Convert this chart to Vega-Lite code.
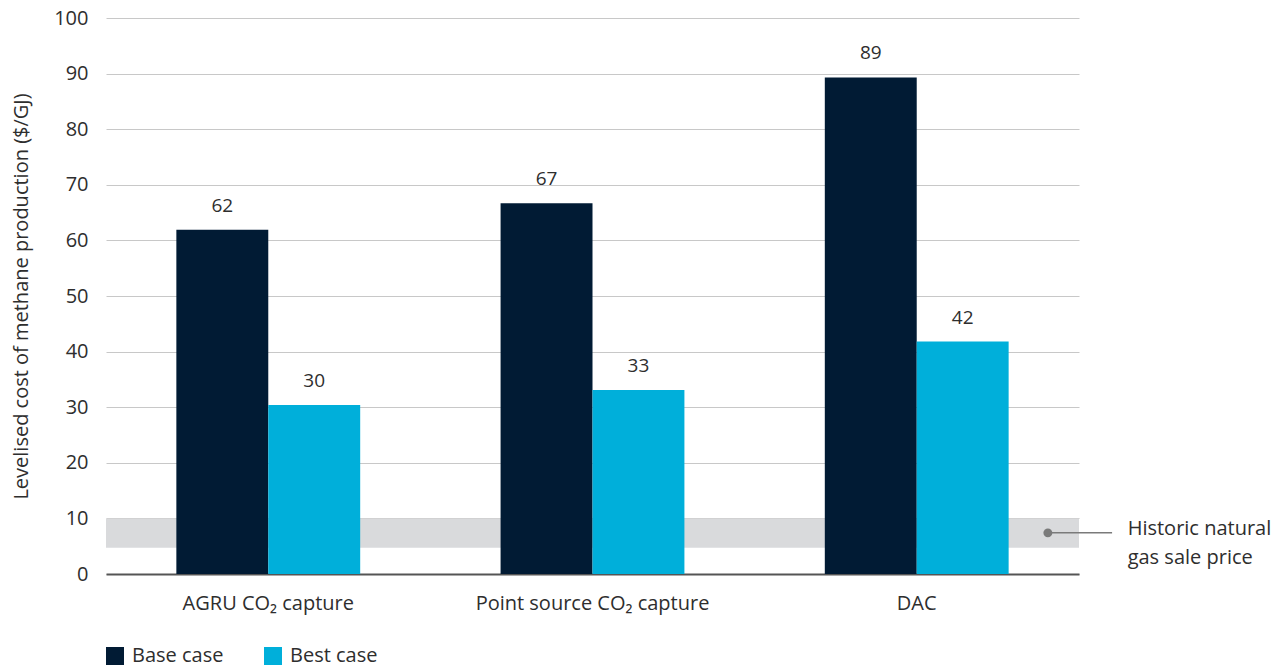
{
  "$schema": "https://vega.github.io/schema/vega-lite/v6.json",
  "autosize": "none",
  "width": 973,
  "height": 556,
  "padding": {"left": 106, "top": 18, "right": 205, "bottom": 94},
  "background": "white",
  "config": {
    "font": "Open Sans",
    "view": {"stroke": null},
    "axis": {"labelColor": "#2e2e2e", "titleColor": "#2e2e2e", "labelFontSize": 20, "titleFontSize": 20, "titleFontWeight": "normal", "labelFont": "Open Sans", "titleFont": "Open Sans", "labelLimit": 0},
    "legend": {"labelFontSize": 20, "labelColor": "#2e2e2e", "labelFont": "Open Sans", "labelLimit": 0}
  },
  "datasets": {
    "bars": [
      {"category": "AGRU CO₂ capture", "case": "Base case", "value": 61.9},
      {"category": "AGRU CO₂ capture", "case": "Best case", "value": 30.4},
      {"category": "Point source CO₂ capture", "case": "Base case", "value": 66.7},
      {"category": "Point source CO₂ capture", "case": "Best case", "value": 33.1},
      {"category": "DAC", "case": "Base case", "value": 89.3},
      {"category": "DAC", "case": "Best case", "value": 41.8}
    ]
  },
  "layer": [
    {
      "data": {"values": [{"lo": 4.7, "hi": 10}]},
      "mark": {"type": "rect", "color": "#d9dadc"},
      "encoding": {
        "y": {"field": "lo", "type": "quantitative", "scale": {"domain": [0, 100]},
              "axis": {"title": "Levelised cost of methane production ($/GJ)", "values": [0,10,20,30,40,50,60,70,80,90,100], "domain": false, "ticks": false, "labelPadding": 18, "gridColor": "#c8c8c8", "gridWidth": 1, "titlePadding": 22}},
        "y2": {"field": "hi"}
      }
    },
    {
      "data": {"name": "bars"},
      "layer": [
        {
          "mark": {"type": "bar"},
          "encoding": {
            "x": {"field": "category", "type": "nominal", "sort": null,
                  "scale": {"paddingInner": 0.433, "paddingOuter": 0.217},
                  "axis": {"title": null, "labelAngle": 0, "ticks": false, "domainColor": "#555555", "domainWidth": 2, "labelPadding": 19, "grid": false}},
            "xOffset": {"field": "case", "type": "nominal", "scale": {"paddingInner": 0, "paddingOuter": 0}},
            "y": {"field": "value", "type": "quantitative"},
            "color": {"field": "case", "type": "nominal",
                      "scale": {"domain": ["Base case", "Best case"], "range": ["#011b34", "#00afda"]},
                      "legend": {"title": null, "orient": "none", "legendX": -1, "legendY": 628, "direction": "horizontal", "symbolType": "square", "symbolSize": 324, "symbolStrokeWidth": 0, "symbolOpacity": 1, "columnPadding": 39, "labelOffset": 7}}
          }
        },
        {
          "mark": {"type": "text", "baseline": "bottom", "dy": -14, "fontSize": 19, "color": "#2e2e2e"},
          "encoding": {
            "x": {"field": "category", "type": "nominal", "sort": null},
            "xOffset": {"field": "case", "type": "nominal"},
            "y": {"field": "value", "type": "quantitative"},
            "text": {"field": "value", "type": "quantitative", "format": ".0f"}
          }
        }
      ]
    },
    {
      "data": {"values": [{"px": 0.968, "lx": 1.034, "tx": 1.05, "py": 7.4, "ty": 8.1, "label": ["Historic natural", "gas sale price"]}]},
      "layer": [
        {
          "mark": {"type": "rule", "color": "#7a7a7a", "strokeWidth": 1.5},
          "encoding": {
            "x": {"field": "px", "type": "quantitative", "scale": {"domain": [0, 1], "nice": false, "zero": false}, "axis": null},
            "x2": {"field": "lx"},
            "y": {"field": "py", "type": "quantitative"}
          }
        },
        {
          "mark": {"type": "point", "filled": true, "color": "#7a7a7a", "size": 80, "opacity": 1},
          "encoding": {
            "x": {"field": "px", "type": "quantitative", "axis": null},
            "y": {"field": "py", "type": "quantitative"}
          }
        },
        {
          "mark": {"type": "text", "align": "left", "baseline": "middle", "fontSize": 20, "lineHeight": 29, "color": "#2e2e2e"},
          "encoding": {
            "x": {"field": "tx", "type": "quantitative", "axis": null},
            "y": {"field": "ty", "type": "quantitative"},
            "text": {"field": "label"}
          }
        }
      ]
    }
  ],
  "resolve": {"scale": {"x": "independent"}}
}
